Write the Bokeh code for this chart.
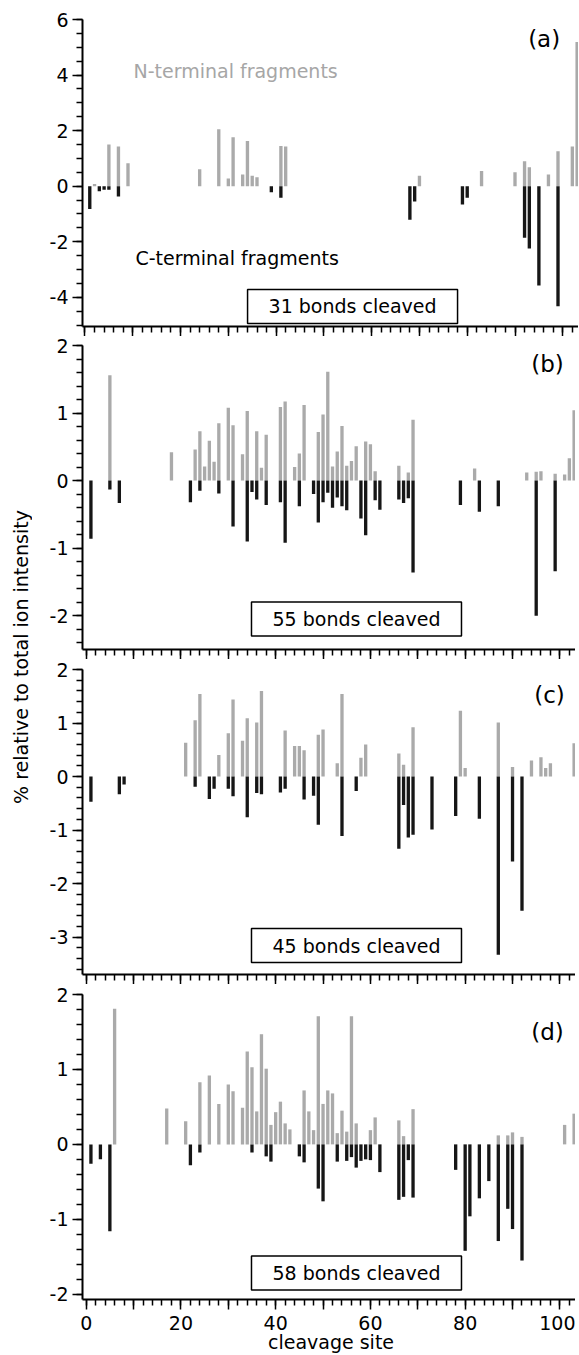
import math
from bokeh.plotting import figure
from bokeh.models import Range1d, FixedTicker, Label
from bokeh.layouts import column, row
from bokeh.embed import file_html
from bokeh.resources import INLINE

FONT = "DejaVu Sans"
GREY = "#aaaaaa"
BLACK = "#161616"

# ---------------- data (cleavage site, % of total ion intensity) ----------------
a_n_sites = [2, 5, 7, 9, 24, 28, 30, 31, 33, 34, 35, 36, 41, 42, 70, 83, 90, 92, 93, 97, 99, 102, 103]
a_n_vals = [0.08, 1.5, 1.43, 0.83, 0.61, 2.05, 0.28, 1.76, 0.42, 1.63, 0.38, 0.32, 1.45, 1.43, 0.38, 0.55,
            0.5, 0.9, 0.68, 0.42, 1.26, 1.43, 5.19]
a_c_sites = [1, 3, 4, 5, 7, 39, 41, 68, 69, 79, 80, 92, 93, 95, 99]
a_c_vals = [-0.82, -0.18, -0.13, -0.13, -0.37, -0.22, -0.42, -1.21, -0.55, -0.66, -0.42, -1.86, -2.24, -3.57, -4.32]

b_n_sites = [5, 18, 23, 24, 25, 26, 27, 28, 30, 31, 33, 34, 36, 37, 38, 41, 42, 44, 45, 46, 49, 50, 51, 52, 53,
             54, 55, 56, 57, 59, 60, 61, 66, 68, 69, 82, 93, 95, 96, 99, 101, 102, 103]
b_n_vals = [1.56, 0.42, 0.46, 0.73, 0.21, 0.59, 0.28, 0.85, 1.08, 0.82, 0.39, 1.03, 0.73, 0.19, 0.68, 1.09, 1.17,
            0.2, 0.4, 1.12, 0.72, 0.98, 1.61, 0.21, 0.43, 0.81, 0.22, 0.29, 0.51, 0.58, 0.54, 0.14, 0.22, 0.12,
            0.9, 0.18, 0.12, 0.13, 0.14, 0.1, 0.09, 0.33, 1.04]
b_c_sites = [1, 5, 7, 22, 24, 28, 31, 34, 35, 36, 38, 41, 42, 45, 48, 49, 50, 51, 52, 53, 54, 55, 58, 59, 61, 62,
             66, 67, 68, 69, 79, 83, 87, 95, 99]
b_c_vals = [-0.86, -0.13, -0.33, -0.32, -0.15, -0.19, -0.68, -0.9, -0.17, -0.28, -0.36, -0.32, -0.92, -0.38, -0.2,
            -0.62, -0.32, -0.18, -0.4, -0.25, -0.38, -0.44, -0.56, -0.81, -0.29, -0.43, -0.28, -0.33, -0.26,
            -1.36, -0.36, -0.46, -0.38, -2.0, -1.34]

c_n_sites = [21, 23, 24, 28, 30, 31, 33, 34, 36, 37, 42, 44, 45, 46, 49, 50, 53, 54, 58, 59, 66, 67, 69, 79, 80,
             87, 90, 94, 96, 97, 98, 103]
c_n_vals = [0.63, 1.05, 1.54, 0.4, 0.81, 1.44, 0.67, 1.09, 1.01, 1.6, 0.86, 0.57, 0.57, 0.49, 0.78, 0.88, 0.25,
            1.54, 0.35, 0.6, 0.43, 0.22, 0.92, 1.23, 0.16, 1.01, 0.18, 0.3, 0.36, 0.16, 0.25, 0.62]
c_c_sites = [1, 7, 8, 23, 26, 27, 30, 31, 34, 36, 37, 41, 42, 46, 48, 49, 54, 57, 66, 67, 68, 69, 73, 78, 83, 87,
             90, 92]
c_c_vals = [-0.47, -0.33, -0.15, -0.19, -0.42, -0.23, -0.23, -0.37, -0.76, -0.31, -0.33, -0.3, -0.23, -0.43,
            -0.36, -0.9, -1.11, -0.27, -1.35, -0.53, -1.14, -1.09, -0.99, -0.74, -0.79, -3.33, -1.59, -2.51]

d_n_sites = [6, 17, 21, 24, 26, 28, 30, 31, 33, 34, 35, 36, 37, 38, 39, 40, 41, 42, 43, 46, 47, 48, 49, 50, 51,
             52, 53, 54, 55, 56, 57, 60, 61, 66, 67, 69, 87, 89, 90, 92, 101, 103]
d_n_vals = [1.81, 0.48, 0.31, 0.83, 0.92, 0.54, 0.8, 0.71, 0.49, 1.24, 1.03, 0.44, 1.47, 1.01, 0.26, 0.43, 0.57,
            0.28, 0.2, 0.72, 0.44, 0.19, 1.71, 0.54, 0.72, 0.68, 0.15, 0.45, 0.17, 1.71, 0.28, 0.19, 0.36, 0.32,
            0.11, 0.47, 0.12, 0.12, 0.16, 0.1, 0.26, 0.41]
d_c_sites = [1, 3, 5, 22, 24, 35, 38, 39, 45, 46, 49, 50, 53, 55, 56, 57, 58, 59, 60, 62, 66, 67, 68, 69, 78, 80,
             81, 83, 85, 87, 89, 90, 92]
d_c_vals = [-0.26, -0.2, -1.16, -0.28, -0.11, -0.11, -0.16, -0.23, -0.16, -0.24, -0.59, -0.76, -0.23, -0.22,
            -0.17, -0.31, -0.22, -0.2, -0.21, -0.37, -0.74, -0.7, -0.21, -0.71, -0.34, -1.42, -0.96, -0.72,
            -0.49, -1.29, -0.86, -1.13, -1.55]

panel_tags = ["(a)", "(b)", "(c)", "(d)"]
bond_texts = ["31 bonds cleaved", "55 bonds cleaved", "45 bonds cleaved", "58 bonds cleaved"]

# ticks
x_major = [0, 10, 20, 30, 40, 50, 60, 70, 80, 90, 100]
x_minor = list(range(0, 105, 2))
x_tick_labels = ["0", "", "20", "", "40", "", "60", "", "80", "", "100"]

a_y_ticks = [-4, -2, 0, 2, 4, 6]
a_y_labels = ["-4", "-2", "0", "2", "4", "6"]
b_y_ticks = [-2, -1, 0, 1, 2]
b_y_labels = ["-2", "-1", "0", "1", "2"]
c_y_ticks = [-3, -2, -1, 0, 1, 2]
c_y_labels = ["-3", "-2", "-1", "0", "1", "2"]
d_y_ticks = [-2, -1, 0, 1, 2]
d_y_labels = ["-2", "-1", "0", "1", "2"]

TITLE_W = 32
TOTAL_H = 1354


def make_panel(n_sites, n_vals, c_sites, c_vals, xr, yr, yt, yl, ystep, frame_h,
               b_left, b_top, b_bottom, frame_w, bottom_labels=False):
    p = figure(frame_width=frame_w, frame_height=frame_h,
               x_range=Range1d(*xr), y_range=Range1d(*yr),
               output_backend="svg", toolbar_location=None,
               min_border_left=b_left, min_border_right=0,
               min_border_top=b_top, min_border_bottom=b_bottom)
    p.outline_line_color = None
    p.xgrid.visible = False
    p.ygrid.visible = False
    p.background_fill_color = "white"
    p.border_fill_color = "white"

    p.vbar(x=n_sites, top=n_vals, bottom=0, width=0.7, fill_color=GREY, line_color=None)
    p.vbar(x=c_sites, top=c_vals, bottom=0, width=0.7, fill_color=BLACK, line_color=None)

    # y axis
    ymin = math.ceil(yr[0] / ystep - 1e-9)
    ymax = math.floor(yr[1] / ystep + 1e-9)
    yminor = [round(k * ystep, 4) for k in range(ymin, ymax + 1)]
    ax = p.yaxis[0]
    ax.ticker = FixedTicker(ticks=yt, minor_ticks=yminor)
    ax.major_label_overrides = {t: s for t, s in zip(yt, yl)}
    ax.major_tick_out = 10
    ax.major_tick_in = 0
    ax.minor_tick_out = 6
    ax.minor_tick_in = 0
    ax.major_label_standoff = 4

    # x axis
    bx = p.xaxis[0]
    bx.ticker = FixedTicker(ticks=x_major, minor_ticks=x_minor)
    bx.major_tick_out = 10
    bx.major_tick_in = 0
    bx.minor_tick_out = 6
    bx.minor_tick_in = 0
    if bottom_labels:
        bx.major_label_overrides = {t: s for t, s in zip(x_major, x_tick_labels)}
        bx.major_label_standoff = 6
        bx.axis_label = "cleavage site"
        bx.axis_label_standoff = -2
        bx.axis_label_text_font = FONT
        bx.axis_label_text_font_size = "19px"
        bx.axis_label_text_font_style = "normal"
        bx.axis_label_text_color = "black"
    else:
        bx.major_label_text_font_size = "0px"
        bx.major_label_overrides = {t: "" for t in x_major}
        bx.major_label_standoff = 0

    for axis in (ax, bx):
        axis.axis_line_width = 2
        axis.axis_line_color = "black"
        axis.major_tick_line_width = 1.5
        axis.minor_tick_line_width = 1.5
        axis.major_tick_line_color = "black"
        axis.minor_tick_line_color = "black"
        axis.major_label_text_font = FONT
        if axis is ax or bottom_labels:
            axis.major_label_text_font_size = "19px"
        axis.major_label_text_color = "black"
    return p


common = dict(b_left=46, frame_w=497)
xr_common = (-0.78, 104.14)

pa = make_panel(a_n_sites, a_n_vals, a_c_sites, a_c_vals, (-0.523, 103.29), (-5.05, 6),
                a_y_ticks, a_y_labels, 0.5, 307, b_left=50, b_top=19, b_bottom=10, frame_w=496)
pb = make_panel(b_n_sites, b_n_vals, b_c_sites, b_c_vals, xr_common, (-2.5, 2),
                b_y_ticks, b_y_labels, 0.2, 304, b_top=9, b_bottom=10, **common)
pc = make_panel(c_n_sites, c_n_vals, c_c_sites, c_c_vals, xr_common, (-3.7, 2),
                c_y_ticks, c_y_labels, 0.2, 305, b_top=10, b_bottom=10, **common)
pd = make_panel(d_n_sites, d_n_vals, d_c_sites, d_c_vals, xr_common, (-2.07, 2),
                d_y_ticks, d_y_labels, 0.2, 305, b_top=10, b_bottom=55, bottom_labels=True, **common)

# annotations
pa.add_layout(Label(x=10.15, y=4.16, text="N-terminal fragments", text_font=FONT,
                    text_font_size="19px", text_color="#a6a6a6", text_align="left",
                    text_baseline="middle"))
pa.add_layout(Label(x=10.57, y=-2.58, text="C-terminal fragments", text_font=FONT,
                    text_font_size="19px", text_color="black", text_align="left",
                    text_baseline="middle"))

tag_pos = [(pa, 96.1, 5.31), (pb, 97.4, 1.73), (pc, 97.8, 1.53), (pd, 97.4, 1.50)]
for (p, x, y), t in zip(tag_pos, panel_tags):
    p.add_layout(Label(x=x, y=y, text=t, text_font=FONT, text_font_size="23px",
                       text_color="black", text_align="center", text_baseline="middle"))

box_pos = [(pa, 56.0, -4.33), (pb, 57.06, -2.05), (pc, 57.06, -3.16), (pd, 57.06, -1.715)]
for (p, x, y), t in zip(box_pos, bond_texts):
    p.add_layout(Label(x=x, y=y, text=t, text_font=FONT, text_font_size="19px",
                       text_color="black", text_align="center", text_baseline="middle",
                       background_fill_color="white", border_line_color="black",
                       border_line_width=1.5, padding=(21, 6)))

# y-axis title in a narrow figure spanning all panels
pt = figure(width=TITLE_W, height=TOTAL_H, x_range=Range1d(0, TITLE_W), y_range=Range1d(0, TOTAL_H),
            output_backend="svg", toolbar_location=None,
            min_border_left=0, min_border_right=0, min_border_top=0, min_border_bottom=0)
pt.axis.visible = False
pt.xgrid.visible = False
pt.ygrid.visible = False
pt.outline_line_color = None
pt.add_layout(Label(x=20, y=TOTAL_H - 656.5, text="% relative to total ion intensity", text_font=FONT,
                    text_font_size="19px", text_color="black", angle=math.pi / 2,
                    text_align="center", text_baseline="middle"))

layout = row(pt, column(pa, pb, pc, pd, spacing=0), spacing=0)

with open("out.html", "w") as f:
    f.write(file_html(layout, INLINE))
